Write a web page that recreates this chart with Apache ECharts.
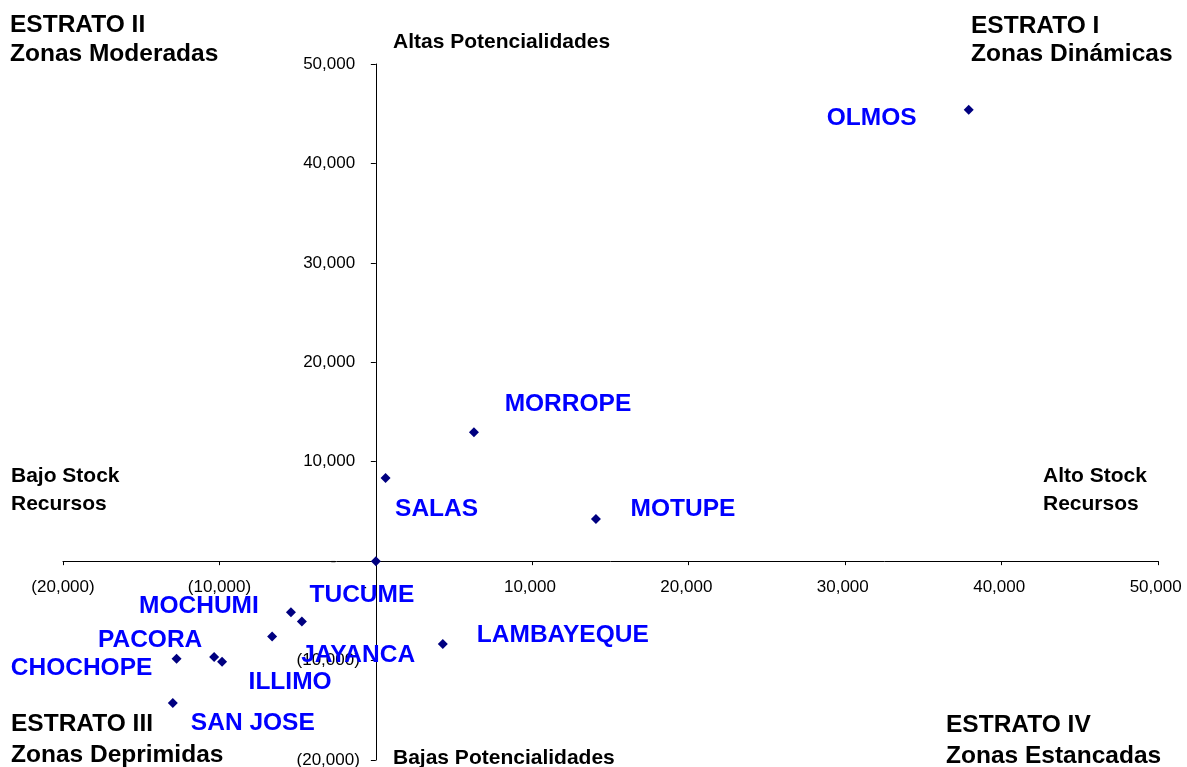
<!DOCTYPE html>
<html>
<head>
<meta charset="utf-8">
<title>Estratos</title>
<script src="https://cdn.jsdelivr.net/npm/echarts@6/dist/echarts.min.js"></script>
<style>
  html, body { margin: 0; padding: 0; background: #fff; }
  #chart { width: 1187px; height: 767px; }
</style>
</head>
<body>
<div id="chart"></div>
<script>
// distritos
var distritos = ['OLMOS', 'MORROPE', 'SALAS', 'MOTUPE', 'TUCUME', 'MOCHUMI', 'PACORA', 'ILLIMO', 'JAYANCA', 'CHOCHOPE', 'SAN JOSE', 'LAMBAYEQUE', ''];
// eje x: stock de recursos
var stockRecursos = [37900, 6270, 620, 14070, -4730, -5430, -10340, -9830, -6630, -12740, -12980, 4280, 0];
// eje y: potencialidades
var potencialidades = [45400, 12960, 8370, 4250, -6060, -5130, -9640, -10110, -7570, -9810, -14270, -8330, 0];
// rango de los ejes
var xRange = [-20000, 50000];
var yRange = [-20000, 50000];

// desplazamiento de cada etiqueta respecto a su punto (px)
var labelPos = {
  'OLMOS': [-97, 9],
  'MORROPE': [94, -28],
  'SALAS': [51, 31],
  'MOTUPE': [87, -10],
  'TUCUME': [60, -26],
  'MOCHUMI': [-92, -6],
  'PACORA': [-64, -17],
  'ILLIMO': [68, 21],
  'JAYANCA': [86, 19],
  'CHOCHOPE': [-95, 10],
  'SAN JOSE': [80, 20],
  'LAMBAYEQUE': [120, -9]
};

var FONT = '"Liberation Sans", Arial, sans-serif';
var W = 1187, H = 767;
var grid = { left: 63, right: 29, top: 64, bottom: 7 };

// formato contable tipo excel: 1,000 / (1,000) / -
function fmt(v) {
  if (v === 0) return '-\u2007\u2007 ';
  var s = Math.abs(v).toLocaleString('en-US');
  return v < 0 ? '(' + s + ')' : s + ' ';
}

// los ejes se cruzan en cero: se desplazan hacia dentro del grid
var gw = W - grid.left - grid.right;
var gh = H - grid.top - grid.bottom;
var yAxisOffset = -gw * (0 - xRange[0]) / (xRange[1] - xRange[0]);
var xAxisOffset = -gh * (0 - yRange[0]) / (yRange[1] - yRange[0]);

var myChart = echarts.init(document.getElementById('chart'), null, { renderer: 'canvas' });

var data = [];
for (var i = 0; i < distritos.length; i++) {
  var n = distritos[i];
  data.push({
    name: n,
    value: [stockRecursos[i], potencialidades[i]],
    label: { show: !!n, offset: labelPos[n] || [0, 0] }
  });
}

function txt(text, x, y, size) {
  return {
    type: 'text',
    x: x,
    y: y,
    silent: true,
    style: {
      text: text,
      font: 'bold ' + size + 'px ' + FONT,
      fill: '#000',
      verticalAlign: 'middle'
    }
  };
}

var option = {
  animation: false,
  backgroundColor: '#fff',
  grid: {
    left: grid.left, right: grid.right, top: grid.top, bottom: grid.bottom,
    containLabel: false,
    outerBoundsMode: 'none'
  },
  xAxis: {
    type: 'value',
    position: 'bottom',
    offset: xAxisOffset,
    min: xRange[0],
    max: xRange[1],
    interval: 10000,
    splitLine: { show: false },
    axisLine: { show: true, onZero: false, lineStyle: { color: '#000', width: 1 } },
    axisTick: { show: true, length: 4, lineStyle: { color: '#000' } },
    axisLabel: { margin: 18, color: '#000', fontSize: 17, fontFamily: FONT, formatter: fmt }
  },
  yAxis: {
    type: 'value',
    position: 'left',
    offset: yAxisOffset,
    min: yRange[0],
    max: yRange[1],
    interval: 10000,
    splitLine: { show: false },
    axisLine: { show: true, onZero: false, lineStyle: { color: '#000', width: 1 } },
    axisTick: { show: true, length: 5, lineStyle: { color: '#000' } },
    axisLabel: { margin: 16, color: '#000', fontSize: 17, fontFamily: FONT, formatter: fmt }
  },
  series: [{
    type: 'scatter',
    symbol: 'diamond',
    symbolSize: 10,
    itemStyle: { color: '#000080', opacity: 1 },
    label: {
      show: true,
      position: 'inside',
      formatter: '{b}',
      color: '#0000ff',
      fontSize: 24.5,
      fontWeight: 'bold',
      fontFamily: FONT,
      align: 'center',
      verticalAlign: 'middle'
    },
    data: data
  }],
  graphic: [
    txt('ESTRATO II', 10, 25.5, 24.5),
    txt('Zonas Moderadas', 10, 54, 24.5),
    txt('ESTRATO I', 971, 26, 24.5),
    txt('Zonas Dinámicas', 971, 54, 24.5),
    txt('ESTRATO III', 11, 724.5, 24.5),
    txt('Zonas Deprimidas', 11, 755.5, 24.5),
    txt('ESTRATO IV', 946, 725, 24.5),
    txt('Zonas Estancadas', 946, 756, 24.5),
    txt('Altas Potencialidades', 393, 42, 21),
    txt('Bajas Potencialidades', 393, 758.5, 21),
    txt('Bajo Stock', 11, 476.5, 21),
    txt('Recursos', 11, 504, 21),
    txt('Alto Stock', 1043, 476.5, 21),
    txt('Recursos', 1043, 504, 21)
  ]
};

myChart.setOption(option, true);
window.addEventListener('resize', function () {
  myChart.resize();
});
</script>
</body>
</html>
